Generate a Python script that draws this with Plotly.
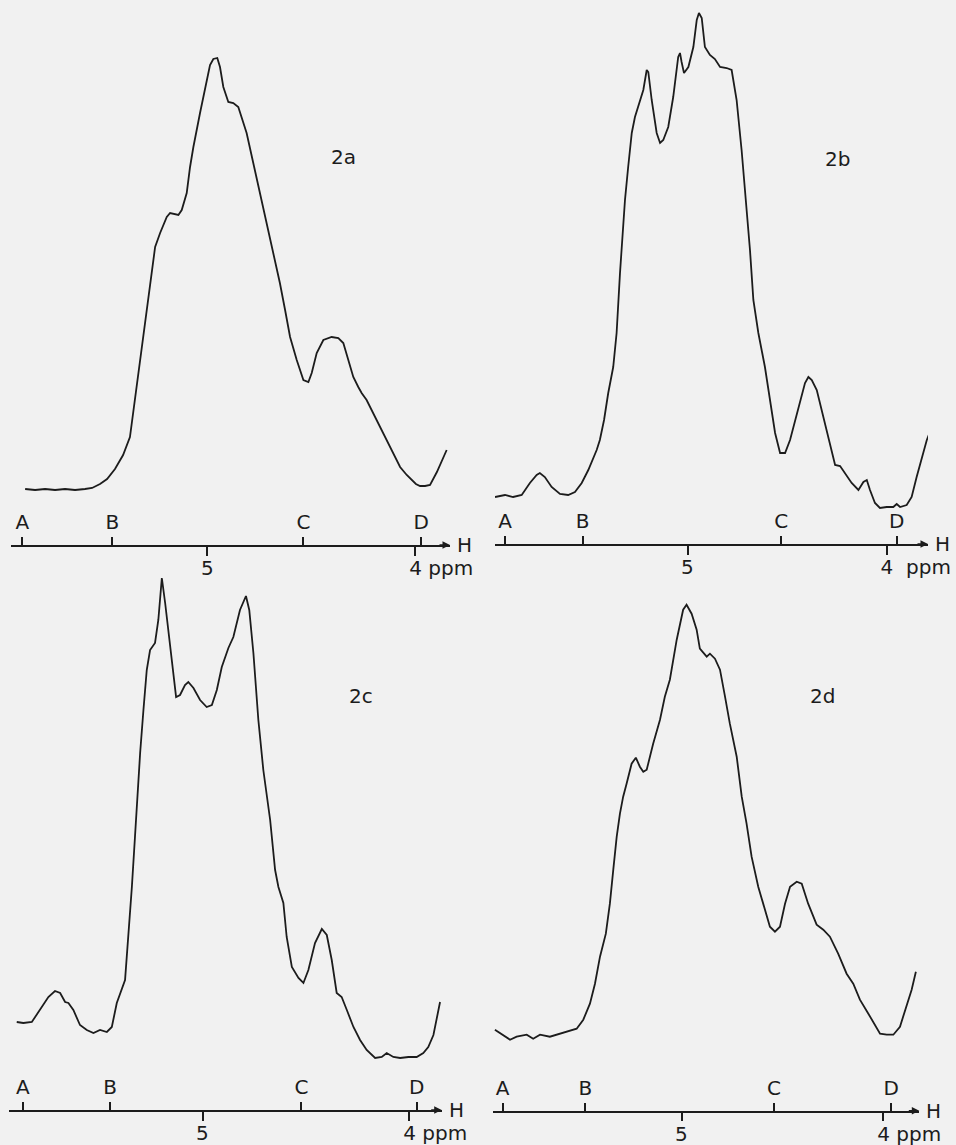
import plotly.graph_objects as go

# ---------------- data (chemical shift in ppm, intensity in arbitrary units) ----------------
ppm_2a = [5.876, 5.828, 5.780, 5.732, 5.684, 5.636, 5.588, 5.554, 5.516, 5.482, 5.444, 5.405, 5.372, 5.357,
          5.339, 5.308, 5.284, 5.267, 5.251, 5.227, 5.195, 5.179, 5.139, 5.123, 5.099, 5.083, 5.067, 5.035,
          5.011, 4.987, 4.971, 4.952, 4.939, 4.923, 4.899, 4.875, 4.851, 4.835, 4.811, 4.779, 4.747, 4.714,
          4.683, 4.651, 4.626, 4.602, 4.570, 4.538, 4.514, 4.498, 4.474, 4.442, 4.402, 4.370, 4.346, 4.322,
          4.298, 4.274, 4.258, 4.234, 4.202, 4.170, 4.137, 4.106, 4.073, 4.041, 4.017, 3.997, 3.977, 3.953,
          3.929, 3.896, 3.849]
int_2a = [56, 55, 56, 55, 56, 55, 56, 57, 61, 66, 76, 90, 108, 132,
          162, 212, 245, 278, 298, 312, 328, 332, 330, 335, 352, 378, 398, 432,
          458, 480, 486, 487, 478, 458, 443, 442, 438, 428, 412, 382, 352, 318,
          292, 262, 235, 208, 185, 165, 163, 172, 192, 205, 208, 207, 202, 185,
          168, 158, 152, 145, 132, 118, 105, 92, 78, 70, 65, 61, 59, 59,
          60, 73, 95]

ppm_2b = [5.968, 5.918, 5.877, 5.834, 5.793, 5.759, 5.743, 5.718, 5.684, 5.642, 5.601, 5.567, 5.533, 5.500,
          5.458, 5.442, 5.421, 5.400, 5.375, 5.358, 5.341, 5.328, 5.316, 5.300, 5.282, 5.266, 5.241, 5.224,
          5.207, 5.199, 5.182, 5.157, 5.140, 5.124, 5.099, 5.074, 5.049, 5.040, 5.032, 5.020, 4.998, 4.973,
          4.956, 4.945, 4.931, 4.915, 4.890, 4.865, 4.839, 4.806, 4.781, 4.756, 4.731, 4.705, 4.689, 4.672,
          4.647, 4.614, 4.589, 4.563, 4.538, 4.513, 4.488, 4.463, 4.438, 4.413, 4.396, 4.379, 4.354, 4.321,
          4.287, 4.262, 4.237, 4.212, 4.179, 4.145, 4.120, 4.103, 4.087, 4.062, 4.037, 4.003, 3.970, 3.953,
          3.936, 3.903, 3.878, 3.853, 3.827, 3.802, 3.786]
int_2b = [47, 49, 47, 49, 61, 69, 71, 67, 57, 50, 49, 52, 61, 74,
          94, 104, 124, 151, 177, 211, 271, 311, 344, 377, 411, 427, 444, 454,
          474, 472, 444, 411, 401, 404, 417, 447, 487, 491, 482, 471, 477, 497,
          524, 531, 526, 497, 489, 485, 477, 476, 474, 444, 394, 337, 294, 244,
          211, 177, 144, 111, 91, 91, 104, 124, 144, 161, 167, 164, 154, 127,
          101, 79, 78, 71, 61, 54, 62, 64, 54, 41, 36, 37, 37, 40,
          37, 39, 47, 67, 87, 104, 112]

ppm_2c = [5.900, 5.868, 5.827, 5.787, 5.747, 5.715, 5.690, 5.666, 5.650, 5.626, 5.594, 5.561, 5.529, 5.497,
          5.464, 5.440, 5.416, 5.376, 5.360, 5.343, 5.328, 5.319, 5.303, 5.287, 5.271, 5.255, 5.231, 5.215,
          5.198, 5.182, 5.158, 5.129, 5.110, 5.086, 5.070, 5.045, 5.013, 4.981, 4.956, 4.932, 4.908, 4.876,
          4.852, 4.820, 4.791, 4.775, 4.755, 4.731, 4.707, 4.674, 4.650, 4.634, 4.610, 4.594, 4.569, 4.537,
          4.513, 4.489, 4.457, 4.424, 4.400, 4.376, 4.352, 4.328, 4.303, 4.271, 4.239, 4.207, 4.166, 4.134,
          4.110, 4.078, 4.045, 4.005, 3.965, 3.933, 3.909, 3.884, 3.852]
int_2c = [88, 87, 88, 100, 113, 119, 117, 108, 107, 100, 85, 80, 77, 80,
          78, 83, 107, 130, 173, 223, 273, 307, 357, 400, 440, 460, 467, 490,
          532, 507, 467, 413, 415, 425, 428, 422, 410, 403, 405, 420, 443, 462,
          473, 500, 514, 500, 457, 390, 340, 290, 240, 223, 207, 173, 143, 132,
          127, 140, 167, 181, 175, 150, 117, 113, 100, 83, 70, 60, 52, 53,
          57, 53, 52, 53, 53, 57, 63, 75, 108]

ppm_2d = [5.929, 5.888, 5.854, 5.821, 5.771, 5.739, 5.705, 5.656, 5.606, 5.556, 5.523, 5.490, 5.457, 5.432,
          5.407, 5.378, 5.358, 5.341, 5.324, 5.308, 5.292, 5.275, 5.250, 5.229, 5.209, 5.192, 5.175, 5.143,
          5.109, 5.085, 5.060, 5.026, 4.994, 4.977, 4.952, 4.927, 4.911, 4.877, 4.861, 4.836, 4.811, 4.786,
          4.762, 4.728, 4.703, 4.679, 4.654, 4.621, 4.588, 4.563, 4.538, 4.513, 4.488, 4.463, 4.430, 4.405,
          4.373, 4.331, 4.298, 4.265, 4.224, 4.182, 4.149, 4.116, 4.074, 4.041, 4.016, 3.983, 3.950, 3.917,
          3.884, 3.859, 3.838]
int_2d = [81, 76, 71, 74, 76, 72, 76, 74, 77, 80, 82, 91, 107, 127,
          154, 177, 207, 241, 274, 297, 314, 327, 347, 353, 344, 339, 341, 367,
          391, 414, 431, 471, 501, 506, 497, 481, 462, 454, 457, 452, 441, 414,
          387, 354, 314, 287, 254, 224, 201, 184, 179, 184, 207, 224, 229, 227,
          207, 186, 181, 174, 157, 137, 127, 111, 97, 86, 77, 76, 76, 84,
          104, 121, 139]

ref_letters = ["A", "B", "C", "D"]
ref_ppm_2a = [5.889, 5.457, 4.538, 3.971]
ref_ppm_2b = [5.917, 5.528, 4.532, 3.953]
ref_ppm_2c = [5.871, 5.448, 4.523, 3.965]
ref_ppm_2d = [5.891, 5.480, 4.543, 3.960]
scale_ticks = [5, 4]
scale_labels = ["5", "4"]
unit_label = "ppm"
axis_name = "H"
panel_names = ["2a", "2b", "2c", "2d"]

# ---------------- layout geometry (pixels) ----------------
W, H = 956, 1145
INK = "#1c1c1c"
BG = "#f1f1f1"
FONT = "DejaVu Sans"
FS = 20

geom = [
    dict(px0=11.0, px1=450.0, lo=5.944, hi=3.833, base=545.0, top=0.0, lab=(343.5, 157), gap=1),
    dict(px0=495.0, px1=928.0, lo=5.968, hi=3.796, base=544.0, top=0.0, lab=(837, 159), gap=2),
    dict(px0=9.3, px1=441.7, lo=5.936, hi=3.844, base=1110.0, top=570.0, lab=(360.5, 696), gap=1),
    dict(px0=492.7, px1=919.3, lo=5.940, hi=3.821, base=1110.7, top=570.0, lab=(822, 696), gap=1),
]
series = [(ppm_2a, int_2a, ref_ppm_2a), (ppm_2b, int_2b, ref_ppm_2b),
          (ppm_2c, int_2c, ref_ppm_2c), (ppm_2d, int_2d, ref_ppm_2d)]

fig = go.Figure()
layout = dict(width=W, height=H, autosize=False, margin=dict(l=0, r=0, t=0, b=0, pad=0, autoexpand=False),
              paper_bgcolor=BG, plot_bgcolor=BG, showlegend=False, hovermode=False,
              font=dict(family=FONT, size=FS, color=INK))
annotations = []
tfont = dict(family=FONT, size=FS, color=INK)

for i, (g, (xs, ys, refs)) in enumerate(zip(geom, series)):
    k = i + 1
    xa = "x" if k == 1 else f"x{k}"
    ya = "y" if k == 1 else f"y{k}"
    xt = f"x{k + 4}"
    xdom = [g["px0"] / W, g["px1"] / W]
    ydom = [1 - g["base"] / H, 1 - g["top"] / H]
    yrange = [0, g["base"] - g["top"]]

    fig.add_trace(go.Scatter(x=xs, y=ys, mode="lines", line=dict(color=INK, width=1.8),
                             xaxis=xa, yaxis=ya, hoverinfo="skip"))
    fig.add_trace(go.Scatter(x=[None], y=[None], mode="lines", xaxis=xt, yaxis=ya, hoverinfo="skip"))

    layout["xaxis" if k == 1 else f"xaxis{k}"] = dict(
        domain=xdom, range=[g["lo"], g["hi"]], anchor=ya, side="bottom", automargin=False,
        showline=True, linecolor=INK, linewidth=1.5, showgrid=False, zeroline=False,
        ticks="outside", ticklen=9, tickwidth=1.5, tickcolor=INK,
        tickmode="array", tickvals=scale_ticks, showticklabels=False, fixedrange=True)
    layout[f"xaxis{k + 4}"] = dict(
        domain=xdom, range=[g["lo"], g["hi"]], overlaying=xa, anchor="free", position=ydom[0],
        side="top", automargin=False, showline=False, showgrid=False, zeroline=False,
        ticks="outside", ticklen=8, tickwidth=1.5, tickcolor=INK,
        tickmode="array", tickvals=refs, ticktext=ref_letters,
        tickfont=tfont, fixedrange=True)
    layout["yaxis" if k == 1 else f"yaxis{k}"] = dict(
        domain=ydom, range=yrange, anchor=xa, visible=False, automargin=False, fixedrange=True)

    # scale labels below the axis ("5" and "4 ppm", the 4 centred on its tick)
    sp = "\u00a0" * g["gap"]
    hidden = f"<span style='color:rgba(0,0,0,0)'>{unit_label}{sp}</span>"
    labels = [scale_labels[0], f"{hidden}{scale_labels[1]}{sp}{unit_label}"]
    for tv, tl in zip(scale_ticks, labels):
        annotations.append(dict(xref=xa, yref=ya, x=tv, y=0, xanchor="center", yanchor="top",
                                yshift=-9, text=tl, showarrow=False, font=tfont))

    # arrow head at the end of the shift axis and its "H" label
    annotations.append(dict(xref=xa, yref=ya, x=g["hi"], y=0, ax=-12, ay=0, text="",
                            showarrow=True, arrowhead=2, arrowsize=1, arrowwidth=1.5,
                            arrowcolor=INK, standoff=0))
    annotations.append(dict(xref=f"{xa} domain", yref=ya, x=1, y=0, xanchor="left", yanchor="middle",
                            xshift=5, text=axis_name, showarrow=False, font=tfont))
    annotations.append(dict(xref="paper", yref="paper", x=g["lab"][0] / W, y=1 - g["lab"][1] / H,
                            xanchor="center", yanchor="middle", text=panel_names[i], showarrow=False,
                            font=tfont))

layout["annotations"] = annotations
fig.update_layout(**layout)

post = "document.body.style.margin='0';document.body.style.background='%s';" % BG
fig.write_html("out.html", config={"responsive": False, "displayModeBar": False}, post_script=post)
